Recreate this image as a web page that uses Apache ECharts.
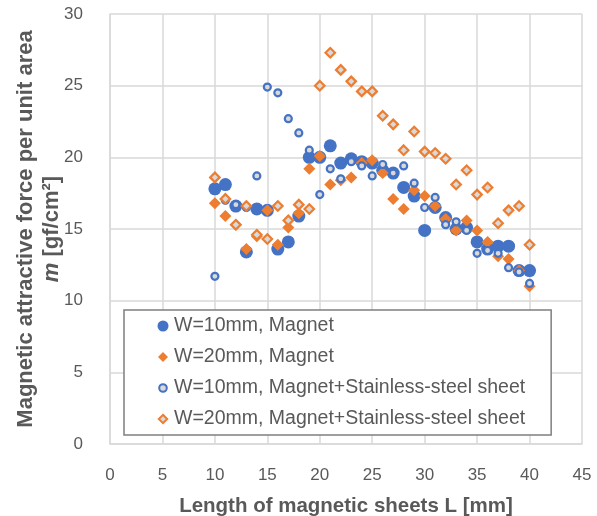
<!DOCTYPE html>
<html>
<head>
<meta charset="utf-8">
<script src="https://cdn.jsdelivr.net/npm/echarts@6/dist/echarts.min.js"></script>
<style>html,body{margin:0;padding:0;background:#fff;}#c{width:597px;height:516px;}</style>
</head>
<body>
<div id="c"></div>
<script>
const lengths = [10,11,12,13,14,15,16,17,18,19,20,21,22,23,24,25,26,27,28,29,30,31,32,33,34,35,36,37,38,39,40];
const w10Magnet = [17.8,18.1,16.6,13.4,16.4,16.3,13.6,14.1,15.9,20.0,20.0,20.8,19.6,19.9,19.7,19.6,19.1,18.9,17.9,17.3,14.9,16.5,15.8,15.0,15.1,14.1,13.6,13.8,13.8,12.1,12.1];
const w20Magnet = [16.8,15.9,15.3,13.6,14.5,16.3,13.9,15.1,16.1,19.2,20.1,18.1,18.4,18.6,19.6,19.8,18.9,17.1,16.4,17.7,17.3,16.6,15.7,14.9,15.6,14.9,14.1,13.1,12.9,12.1,11.0];
const w10Steel = [11.7,17.0,16.7,16.5,18.7,24.9,24.5,22.7,21.7,20.5,17.4,19.2,18.5,19.7,19.4,18.7,19.5,18.9,19.4,18.2,16.5,17.2,15.3,15.5,14.9,13.3,13.5,13.3,12.3,12.0,11.2];
const w20Steel = [18.6,17.1,15.3,16.6,14.6,14.3,16.6,15.6,16.7,16.4,25.0,27.3,26.1,25.3,24.6,24.6,22.9,22.3,20.5,21.8,20.4,20.3,19.9,18.1,19.1,17.4,17.9,15.4,16.3,16.6,13.9];
const seriesNames = ['W=10mm, Magnet','W=20mm, Magnet','W=10mm, Magnet+Stainless-steel sheet','W=20mm, Magnet+Stainless-steel sheet'];
const xTicks = {min:0, max:45, interval:5};
const yTicks = {min:0, max:30, interval:5};

const pair = arr => lengths.map((l,i)=>[l, arr[i]]);
const BLUE = '#4472c4', ORANGE = '#ed7d31', FILLGRAY = '#d9d9d9';
const FONT = 'Liberation Sans';
const ICON_CIRCLE = 'path://M0 0M12 12M6 0.5A5.5 5.5 0 1 1 6 11.5A5.5 5.5 0 1 1 6 0.5Z';
const ICON_DIAMOND = 'path://M0 0M12 12M6 1L11 6L6 11L1 6Z';
const ICON_SMALLCIRCLE = 'path://M0 0M12 12M6 2.2A3.8 3.8 0 1 1 6 9.8A3.8 3.8 0 1 1 6 2.2Z';
const ICON_SMALLDIAMOND = 'path://M0 0M12 12M6 1.8L10.2 6L6 10.2L1.8 6Z';
const chart = echarts.init(document.getElementById('c'), null, {renderer:'canvas'});
chart.setOption({
  animation:false,
  backgroundColor:'#fff',
  grid:{left:110, right:15, top:14, bottom:72, containLabel:false, outerBoundsMode:'none'},
  xAxis:{
    type:'value', min:xTicks.min, max:xTicks.max, interval:xTicks.interval,
    name:'Length of magnetic sheets L [mm]', nameLocation:'middle', nameGap:52,
    nameMoveOverlap:false,
    nameTextStyle:{fontFamily:FONT, fontWeight:'bold', fontSize:20.5, color:'#595959'},
    axisLine:{show:true, lineStyle:{color:'#d9d9d9', width:1.5}},
    axisTick:{show:false},
    axisLabel:{fontFamily:FONT, fontSize:17, color:'#595959', margin:23},
    splitLine:{show:true, lineStyle:{color:'#d9d9d9', width:1.5}}
  },
  yAxis:{
    type:'value', min:yTicks.min, max:yTicks.max, interval:yTicks.interval,
    name:'{b|Magnetic attractive force per unit area}\n{i|m}{b| [gf/cm²]}',
    nameLocation:'middle', nameGap:45, nameRotate:90, nameMoveOverlap:false,
    nameTextStyle:{
      fontFamily:FONT, color:'#595959', lineHeight:26,
      rich:{
        b:{fontFamily:FONT, fontWeight:'bold', fontSize:22, color:'#595959', lineHeight:26},
        i:{fontFamily:FONT, fontWeight:'bold', fontStyle:'italic', fontSize:22, color:'#595959', lineHeight:26}
      }
    },
    axisLine:{show:true, lineStyle:{color:'#d9d9d9', width:1.5}},
    axisTick:{show:false},
    axisLabel:{fontFamily:FONT, fontSize:17, color:'#595959', margin:27},
    splitLine:{show:true, lineStyle:{color:'#d9d9d9', width:1.5}}
  },
  legend:{
    orient:'vertical', left:124, top:310,
    padding:[6,26,6,32], itemGap:11,
    backgroundColor:'#fff', borderColor:'#7f7f7f', borderWidth:1.5,
    itemWidth:12, itemHeight:12,
    textStyle:{fontFamily:FONT, fontSize:19.5, color:'#595959'},
    data:[
      {name:seriesNames[0], icon:ICON_CIRCLE, itemStyle:{color:BLUE, borderWidth:0}},
      {name:seriesNames[1], icon:ICON_DIAMOND, itemStyle:{color:ORANGE, borderWidth:0}},
      {name:seriesNames[2], icon:ICON_SMALLCIRCLE, itemStyle:{color:FILLGRAY, borderColor:BLUE, borderWidth:2}},
      {name:seriesNames[3], icon:ICON_SMALLDIAMOND, itemStyle:{color:FILLGRAY, borderColor:ORANGE, borderWidth:2}}
    ]
  },
  series:[
    {name:seriesNames[0], type:'scatter', data:pair(w10Magnet), symbol:'circle', symbolSize:13,
     itemStyle:{color:BLUE, opacity:1}},
    {name:seriesNames[1], type:'scatter', data:pair(w20Magnet), symbol:'diamond', symbolSize:12,
     itemStyle:{color:ORANGE, opacity:1}},
    {name:seriesNames[2], type:'scatter', data:pair(w10Steel), symbol:'circle', symbolSize:7,
     itemStyle:{color:FILLGRAY, borderColor:BLUE, borderWidth:2.2, opacity:1}},
    {name:seriesNames[3], type:'scatter', data:pair(w20Steel), symbol:'diamond', symbolSize:9.5,
     itemStyle:{color:FILLGRAY, borderColor:ORANGE, borderWidth:2.2, opacity:1}}
  ]
});
</script>
</body>
</html>
